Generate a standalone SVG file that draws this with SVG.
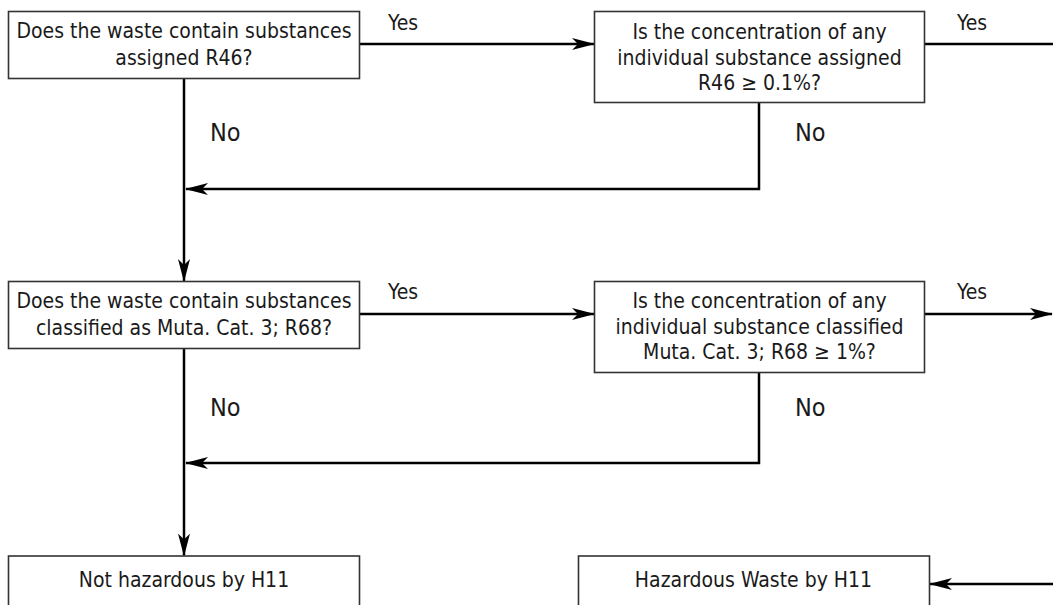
<svg xmlns="http://www.w3.org/2000/svg" width="1053" height="605" viewBox="0 0 1053 605">
<style>
.box{fill:#fff;stroke:#333;stroke-width:1.6}
.t{font-family:"DejaVu Sans Condensed","DejaVu Sans",sans-serif;font-stretch:condensed;font-size:21px;fill:#1a1a1a;text-anchor:middle}
.lbl{font-family:"DejaVu Sans Condensed","DejaVu Sans",sans-serif;font-stretch:condensed;fill:#1a1a1a}
.yes{font-size:21px}
.no{font-size:25px}
.c{fill:none;stroke:#000;stroke-width:2.5}
</style>
<defs>
<marker id="ah" markerUnits="userSpaceOnUse" markerWidth="24" markerHeight="14" refX="22" refY="7" orient="auto">
<path d="M0,1 L23,7 L0,13 L6,7 z" fill="#000"/>
</marker>
</defs>
<rect width="1053" height="605" fill="#fff"/>
<g id="connectors">
<line class="c" x1="359.5" y1="44" x2="594" y2="44" marker-end="url(#ah)"/>
<line class="c" x1="924.5" y1="44" x2="1053" y2="44"/>
<line class="c" x1="184" y1="78.5" x2="184" y2="281" marker-end="url(#ah)"/>
<polyline class="c" points="759,102.5 759,189 186,189" marker-end="url(#ah)"/>
<line class="c" x1="359.5" y1="314" x2="594" y2="314" marker-end="url(#ah)"/>
<line class="c" x1="924.5" y1="314" x2="1052" y2="314" marker-end="url(#ah)"/>
<line class="c" x1="184" y1="348.5" x2="184" y2="555.5" marker-end="url(#ah)"/>
<polyline class="c" points="759,372.5 759,463 186,463" marker-end="url(#ah)"/>
<line class="c" x1="1053" y1="584" x2="930" y2="584" marker-end="url(#ah)"/>
<text class="lbl yes" x="388" y="30">Yes</text>
<text class="lbl yes" x="957" y="30">Yes</text>
<text class="lbl yes" x="388" y="299">Yes</text>
<text class="lbl yes" x="957" y="299">Yes</text>
<text class="lbl no" x="210" y="141">No</text>
<text class="lbl no" x="795" y="141">No</text>
<text class="lbl no" x="210" y="415.5">No</text>
<text class="lbl no" x="795" y="415.5">No</text>
</g>
<g id="n1">
<rect class="box" x="8.5" y="11.5" width="351" height="67"/>
<text class="t" x="184" y="38">Does the waste contain substances</text>
<text class="t" x="184" y="64.5">assigned R46?</text>
</g>
<g id="n2">
<rect class="box" x="594.5" y="11.5" width="330" height="91"/>
<text class="t" x="759.5" y="38.5">Is the concentration of any</text>
<text class="t" x="759.5" y="64.5">individual substance assigned</text>
<text class="t" x="759.5" y="90">R46 ≥ 0.1%?</text>
</g>
<g id="n3">
<rect class="box" x="8.5" y="281.5" width="351" height="67"/>
<text class="t" x="184" y="308">Does the waste contain substances</text>
<text class="t" x="184" y="334.5">classified as Muta. Cat. 3; R68?</text>
</g>
<g id="n4">
<rect class="box" x="594.5" y="281.5" width="330" height="91"/>
<text class="t" x="759.5" y="308">Is the concentration of any</text>
<text class="t" x="759.5" y="334">individual substance classified</text>
<text class="t" x="759.5" y="359">Muta. Cat. 3; R68 ≥ 1%?</text>
</g>
<g id="n5">
<rect class="box" x="8.5" y="556" width="351" height="60"/>
<text class="t" x="184" y="587">Not hazardous by H11</text>
</g>
<g id="n6">
<rect class="box" x="578.5" y="556" width="351" height="60"/>
<text class="t" x="753.5" y="587">Hazardous Waste by H11</text>
</g>
</svg>
